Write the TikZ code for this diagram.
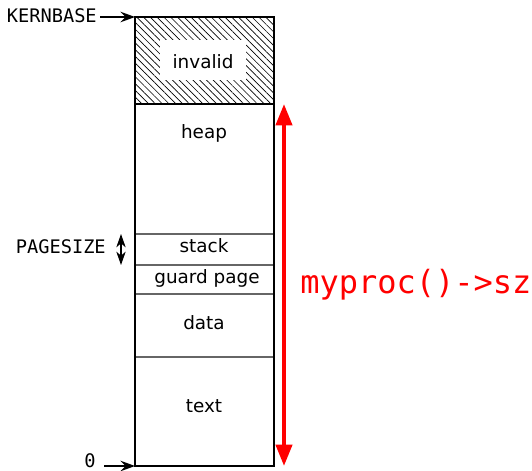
\documentclass[tikz,border=0pt]{standalone}
\usepackage{fontspec}
\setmainfont{DejaVu Sans}
\newfontfamily\monofnt{DejaVu Sans Mono}
\usetikzlibrary{arrows.meta,patterns.meta}
\begin{document}
\begin{tikzpicture}[x=0.75pt,y=-0.75pt,
  seg/.style={draw=black!60,line width=0.8pt},
  lbl/.style={font=\fontsize{13.8pt}{15pt}\selectfont,inner sep=0pt},
  side/.style={font=\monofnt\fontsize{14pt}{16pt}\selectfont,inner sep=0pt},
  ptr/.style={-{Stealth[length=11pt,width=8pt,inset=4pt]},line width=0.8pt}]
\useasboundingbox (0,0) rectangle (532,471);
% hatched invalid region
\path[pattern={Lines[angle=-45,distance=3.6pt,line width=0.5pt]}] (135,17) rectangle (274,104);
\node[fill=white,minimum width=64pt,minimum height=30pt] (invbox) at (203,60) {};
\node[lbl] (invalid) at (203,62) {invalid};
% separators
\draw[seg] (135,234) -- (274,234);
\draw[seg] (135,265) -- (274,265);
\draw[seg] (135,294) -- (274,294);
\draw[seg] (135,357) -- (274,357);
\draw[line width=1.1pt] (135,104) -- (274,104);
\draw[line width=1.1pt] (135,17) rectangle (274,466);
% labels
\node[lbl] (heap) at (204,133) {heap};
\node[lbl] (stack) at (204,246) {stack};
\node[lbl] (guard) at (207,278) {guard page};
\node[lbl] (data) at (204,323) {data};
\node[lbl] (text) at (204,406) {text};
% left side
\coordinate (top) at (135,17);
\coordinate (bot) at (135,466);
\node[side,anchor=east] (kernbase) at (97,16) {KERNBASE};
\coordinate (kbs) at (100,17);
\draw[ptr] (kbs) -- (top);
\node[side,anchor=east] (zero) at (96,461) {0};
\coordinate (zs) at (104,466);
\draw[ptr] (zs) -- (bot);
\node[side,anchor=east] (pagesize) at (106,247) {PAGESIZE};
\coordinate (ps1) at (121,234);
\coordinate (ps2) at (121,265);
\draw[{Stealth[length=10pt,width=7pt,inset=3pt]}-{Stealth[length=10pt,width=7pt,inset=3pt]},line width=0.8pt] (ps1) -- (ps2);
% red size arrow
\coordinate (r1) at (284,104);
\coordinate (r2) at (284,466);
\draw[red,line width=3pt,{Triangle[length=16pt,width=12pt]}-{Triangle[length=16pt,width=12pt]}] (r1) -- (r2);
\node[red,font=\monofnt\fontsize{24pt}{26pt}\selectfont,inner sep=0pt,anchor=west] (sz) at (300,285) {myproc()->sz};
\end{tikzpicture}
\end{document}
